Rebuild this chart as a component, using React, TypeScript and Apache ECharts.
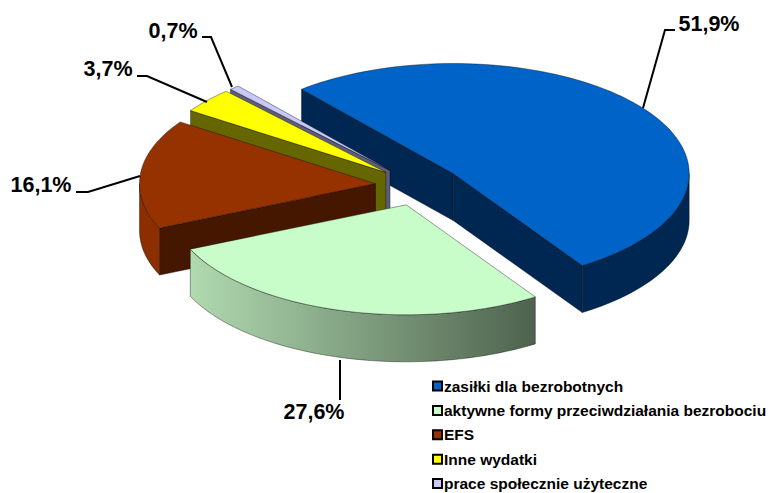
import React, { useEffect, useRef } from "react";
import * as echarts from "echarts";

const categories = [
  "zasiłki dla bezrobotnych",
  "aktywne formy przeciwdziałania bezrobociu",
  "EFS",
  "Inne wydatki",
  "prace społecznie użyteczne",
];
const shares = [51.9, 27.6, 16.1, 3.7, 0.7];
const shareLabels = ["51,9%", "27,6%", "16,1%", "3,7%", "0,7%"];

const topColors = ["#0063c8", "#c8fcc8", "#963200", "#ffff00", "#c8c8fa"];
const innerWallColors = ["#002652", "#b0d8b0", "#451700", "#666600", "#5c5c7c"];
const outerWallColors = ["#002652", "", "#8c2e00", "#666600", "#5c5c7c"];
const drawOrder = [1, 5, 4, 3, 2];

const CX = 418.5, CY = 185.5, RX = 236, RY = 110, H = 47, EXPLODE = 0.183, START = -40;

const labelBoxes: [number, number][] = [[709, 24], [314, 412], [41, 185], [108, 69], [173, 31]];
const leaders: [number, number][][] = [
  [[675, 30], [665, 30], [643, 108]],
  [[340, 400], [340, 360]],
  [[76, 192], [88, 192], [140, 176]],
  [[137, 76], [147, 76], [207, 102]],
  [[202, 37], [211, 37], [232, 87]],
];

const rad = (d: number) => (d * Math.PI) / 180;
const greenWall = {
  type: "linear", x: 0, y: 0, x2: 1, y2: 0,
  colorStops: [
    { offset: 0, color: "#b0dab0" },
    { offset: 1, color: "#4e624e" },
  ],
};

function sliceChildren(i: number) {
  const total = shares.reduce((a, b) => a + b, 0);
  const before = shares.slice(0, i).reduce((a, b) => a + b, 0);
  const a0 = START + (before / total) * 360;
  const a1 = a0 + (shares[i] / total) * 360;
  const mid = (a0 + a1) / 2;
  const ox = CX + EXPLODE * RX * Math.sin(rad(mid));
  const oy = CY - EXPLODE * RY * Math.cos(rad(mid));
  const pt = (a: number): [number, number] => [ox + RX * Math.sin(rad(a)), oy - RY * Math.cos(rad(a))];
  const arc = (from: number, to: number) => {
    const n = Math.max(2, Math.ceil((to - from) / 2));
    const out: [number, number][] = [];
    for (let k = 0; k <= n; k++) out.push(pt(from + ((to - from) * k) / n));
    return out;
  };
  const down = (p: [number, number]): [number, number] => [p[0], p[1] + H];
  const edge = { stroke: "rgba(0,0,0,0.55)", lineWidth: 0.7 };
  const children: any[] = [];
  const poly = (points: [number, number][], fill: any) =>
    children.push({ type: "polygon", shape: { points }, style: { fill, ...edge } });

  const apex: [number, number] = [ox, oy];
  if (Math.sin(rad(a0)) < 0) {
    const p = pt(a0);
    poly([p, apex, down(apex), down(p)], innerWallColors[i]);
  }
  if (Math.sin(rad(a1)) > 0) {
    const p = pt(a1);
    poly([apex, p, down(p), down(apex)], innerWallColors[i]);
  }
  const w0 = Math.max(a0, 90), w1 = Math.min(a1, 270);
  if (w1 > w0) {
    const top = arc(w0, w1);
    poly([...top, ...top.slice().reverse().map(down)], i === 1 ? greenWall : outerWallColors[i]);
  }
  poly([apex, ...arc(a0, a1)], topColors[i]);

  children.push({
    type: "polyline",
    shape: { points: leaders[i] },
    style: { stroke: "#000", lineWidth: 2, fill: "none" },
  });
  children.push({
    type: "text",
    x: labelBoxes[i][0],
    y: labelBoxes[i][1],
    style: {
      text: shareLabels[i],
      fill: "#000",
      font: 'bold 21.5px "Liberation Sans", Arial, sans-serif',
      align: "center",
      verticalAlign: "middle",
    },
  });
  return children;
}

export default function App() {
  const ref = useRef<HTMLDivElement>(null);
  useEffect(() => {
    if (!ref.current) return;
    const chart = echarts.init(ref.current, undefined, { renderer: "svg" });
    chart.setOption({
      animation: false,
      backgroundColor: "#fff",
      legend: {
        data: categories,
        orient: "vertical",
        left: 432,
        top: 378,
        itemWidth: 9,
        itemHeight: 9,
        itemGap: 8.4,
        padding: 0,
        selectedMode: false,
        icon: "rect",
        textStyle: {
          color: "#000",
          fontFamily: '"Liberation Sans", Arial, sans-serif',
          fontWeight: "bold",
          fontSize: 15.5,
          padding: [0, 0, 0, -3],
          lineHeight: 16,
        },
      },
      series: categories.map((name, i) => ({
        type: "custom",
        name,
        coordinateSystem: "none",
        z: drawOrder[i],
        silent: true,
        itemStyle: { color: topColors[i], borderColor: "#000", borderWidth: 1 },
        data: [shares[i]],
        renderItem: () => ({ type: "group", children: sliceChildren(i) }),
      })),
    });
    return () => chart.dispose();
  }, []);
  return <div ref={ref} style={{ width: 781, height: 493, position: "fixed", left: 0, top: 0 }} />;
}
